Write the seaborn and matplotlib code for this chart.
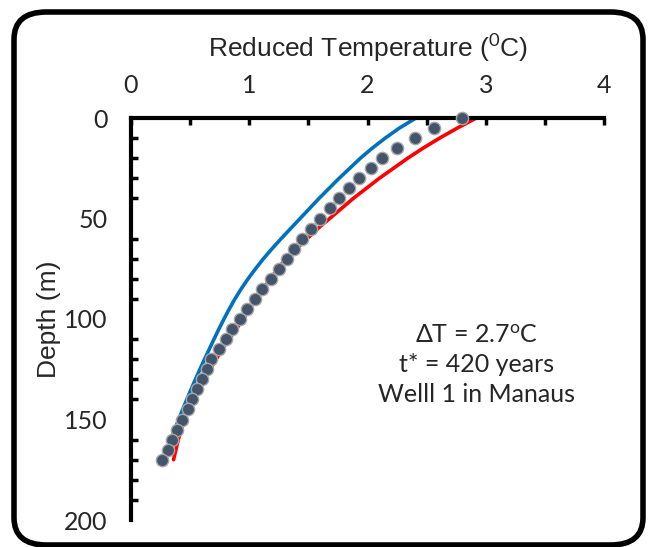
import matplotlib

matplotlib.use("Agg")

import matplotlib.pyplot as plt
import pandas as pd
import seaborn as sns
from matplotlib.patches import FancyBboxPatch
from matplotlib.ticker import MultipleLocator

# Measured (reduced) temperature profile, Well 1 in Manaus
obs_depth = list(range(0, 175, 5))
obs_temp = [2.80, 2.56, 2.40, 2.25, 2.12, 2.03, 1.93, 1.84, 1.76, 1.68,
            1.60, 1.52, 1.45, 1.38, 1.32, 1.25, 1.18, 1.11, 1.05, 0.98,
            0.92, 0.85, 0.80, 0.74, 0.68, 0.64, 0.60, 0.56, 0.52, 0.48,
            0.43, 0.39, 0.35, 0.31, 0.26]

# Model curves (read every 5 m)
model_depth = list(range(0, 175, 5))
blue_temp = [2.41, 2.27, 2.15, 2.04, 1.94, 1.85, 1.76, 1.675, 1.59, 1.51,
             1.43, 1.35, 1.27, 1.193, 1.12, 1.053, 0.99, 0.932, 0.879, 0.831,
             0.786, 0.743, 0.702, 0.662, 0.622, 0.583, 0.545, 0.508, 0.472, 0.437,
             0.403, 0.37, 0.338, 0.307, 0.277]
red_temp = [2.92, 2.76, 2.61, 2.47, 2.34, 2.22, 2.10, 1.99, 1.88, 1.78,
            1.68, 1.58, 1.49, 1.40, 1.31, 1.24, 1.18, 1.12, 1.06, 1.00,
            0.95, 0.89, 0.83, 0.77, 0.72, 0.67, 0.62, 0.57, 0.52, 0.485,
            0.45, 0.425, 0.40, 0.38, 0.36]

annotation = ["\u0394T = 2.7$^{o}$C", "t* = 420 years", "Welll 1 in Manaus"]

sns.set_style("white")
plt.rcParams["font.family"] = ["Liberation Sans", "DejaVu Sans"]
plt.rcParams["mathtext.fontset"] = "custom"
plt.rcParams["mathtext.rm"] = "Lato"
plt.rcParams["mathtext.it"] = "Lato"

obs = pd.DataFrame({"depth": obs_depth, "temp": obs_temp})
models = pd.DataFrame({"depth": model_depth, "blue": blue_temp, "red": red_temp})

fig = plt.figure(figsize=(6.49, 5.47), dpi=100)
ax = fig.add_axes([131 / 649, 1 - 520 / 547, 473 / 649, 402 / 547])

# rounded outer frame
frame = FancyBboxPatch((14 / 649, 2 / 547), 629 / 649, 533 / 547,
                       boxstyle="round,pad=0,rounding_size=0.05",
                       transform=fig.transFigure, fill=False,
                       edgecolor="black", linewidth=4, zorder=0)
fig.patches.append(frame)

sns.lineplot(data=models, x="blue", y="depth", sort=False, estimator=None,
             color="#0070C0", linewidth=2.6, ax=ax, zorder=2)
sns.lineplot(data=models, x="red", y="depth", sort=False, estimator=None,
             color="#FF0000", linewidth=2.6, ax=ax, zorder=2)
sns.scatterplot(data=obs, x="temp", y="depth", s=78, color="#44546A",
                edgecolor="#A6A6A6", linewidth=1.0, ax=ax, zorder=3, clip_on=False)

ax.set_xlim(0, 4)
ax.set_ylim(200, 0)
ax.xaxis.set_major_locator(MultipleLocator(1))
ax.xaxis.set_minor_locator(MultipleLocator(0.5))
ax.yaxis.set_major_locator(MultipleLocator(50))
ax.yaxis.set_minor_locator(MultipleLocator(10))

ax.xaxis.tick_top()
ax.xaxis.set_label_position("top")
for side in ["right", "bottom"]:
    ax.spines[side].set_visible(False)
for side in ["left", "top"]:
    ax.spines[side].set_linewidth(3)
    ax.spines[side].set_color("black")

ax.tick_params(axis="x", which="both", direction="in", length=5, width=2.5,
               pad=15, labelsize=18, color="black")
ax.tick_params(axis="y", which="major", direction="in", length=8, width=2.5,
               pad=17, labelsize=18, color="black")
ax.tick_params(axis="y", which="minor", direction="in", length=5, width=2.5,
               color="black", left=True)
for lbl in ax.get_xticklabels() + ax.get_yticklabels():
    lbl.set_family("Lato")

ax.set_xlabel("Reduced Temperature ($^{0}$C)", fontsize=19, labelpad=12)
ax.set_ylabel("Depth (m)", fontsize=19, labelpad=2)

ax.text(0.73, 0.386, "\n".join(annotation), transform=ax.transAxes,
        ha="center", va="center", fontsize=18, family="Lato", linespacing=1.33)

fig.savefig("out.png", dpi=100)
